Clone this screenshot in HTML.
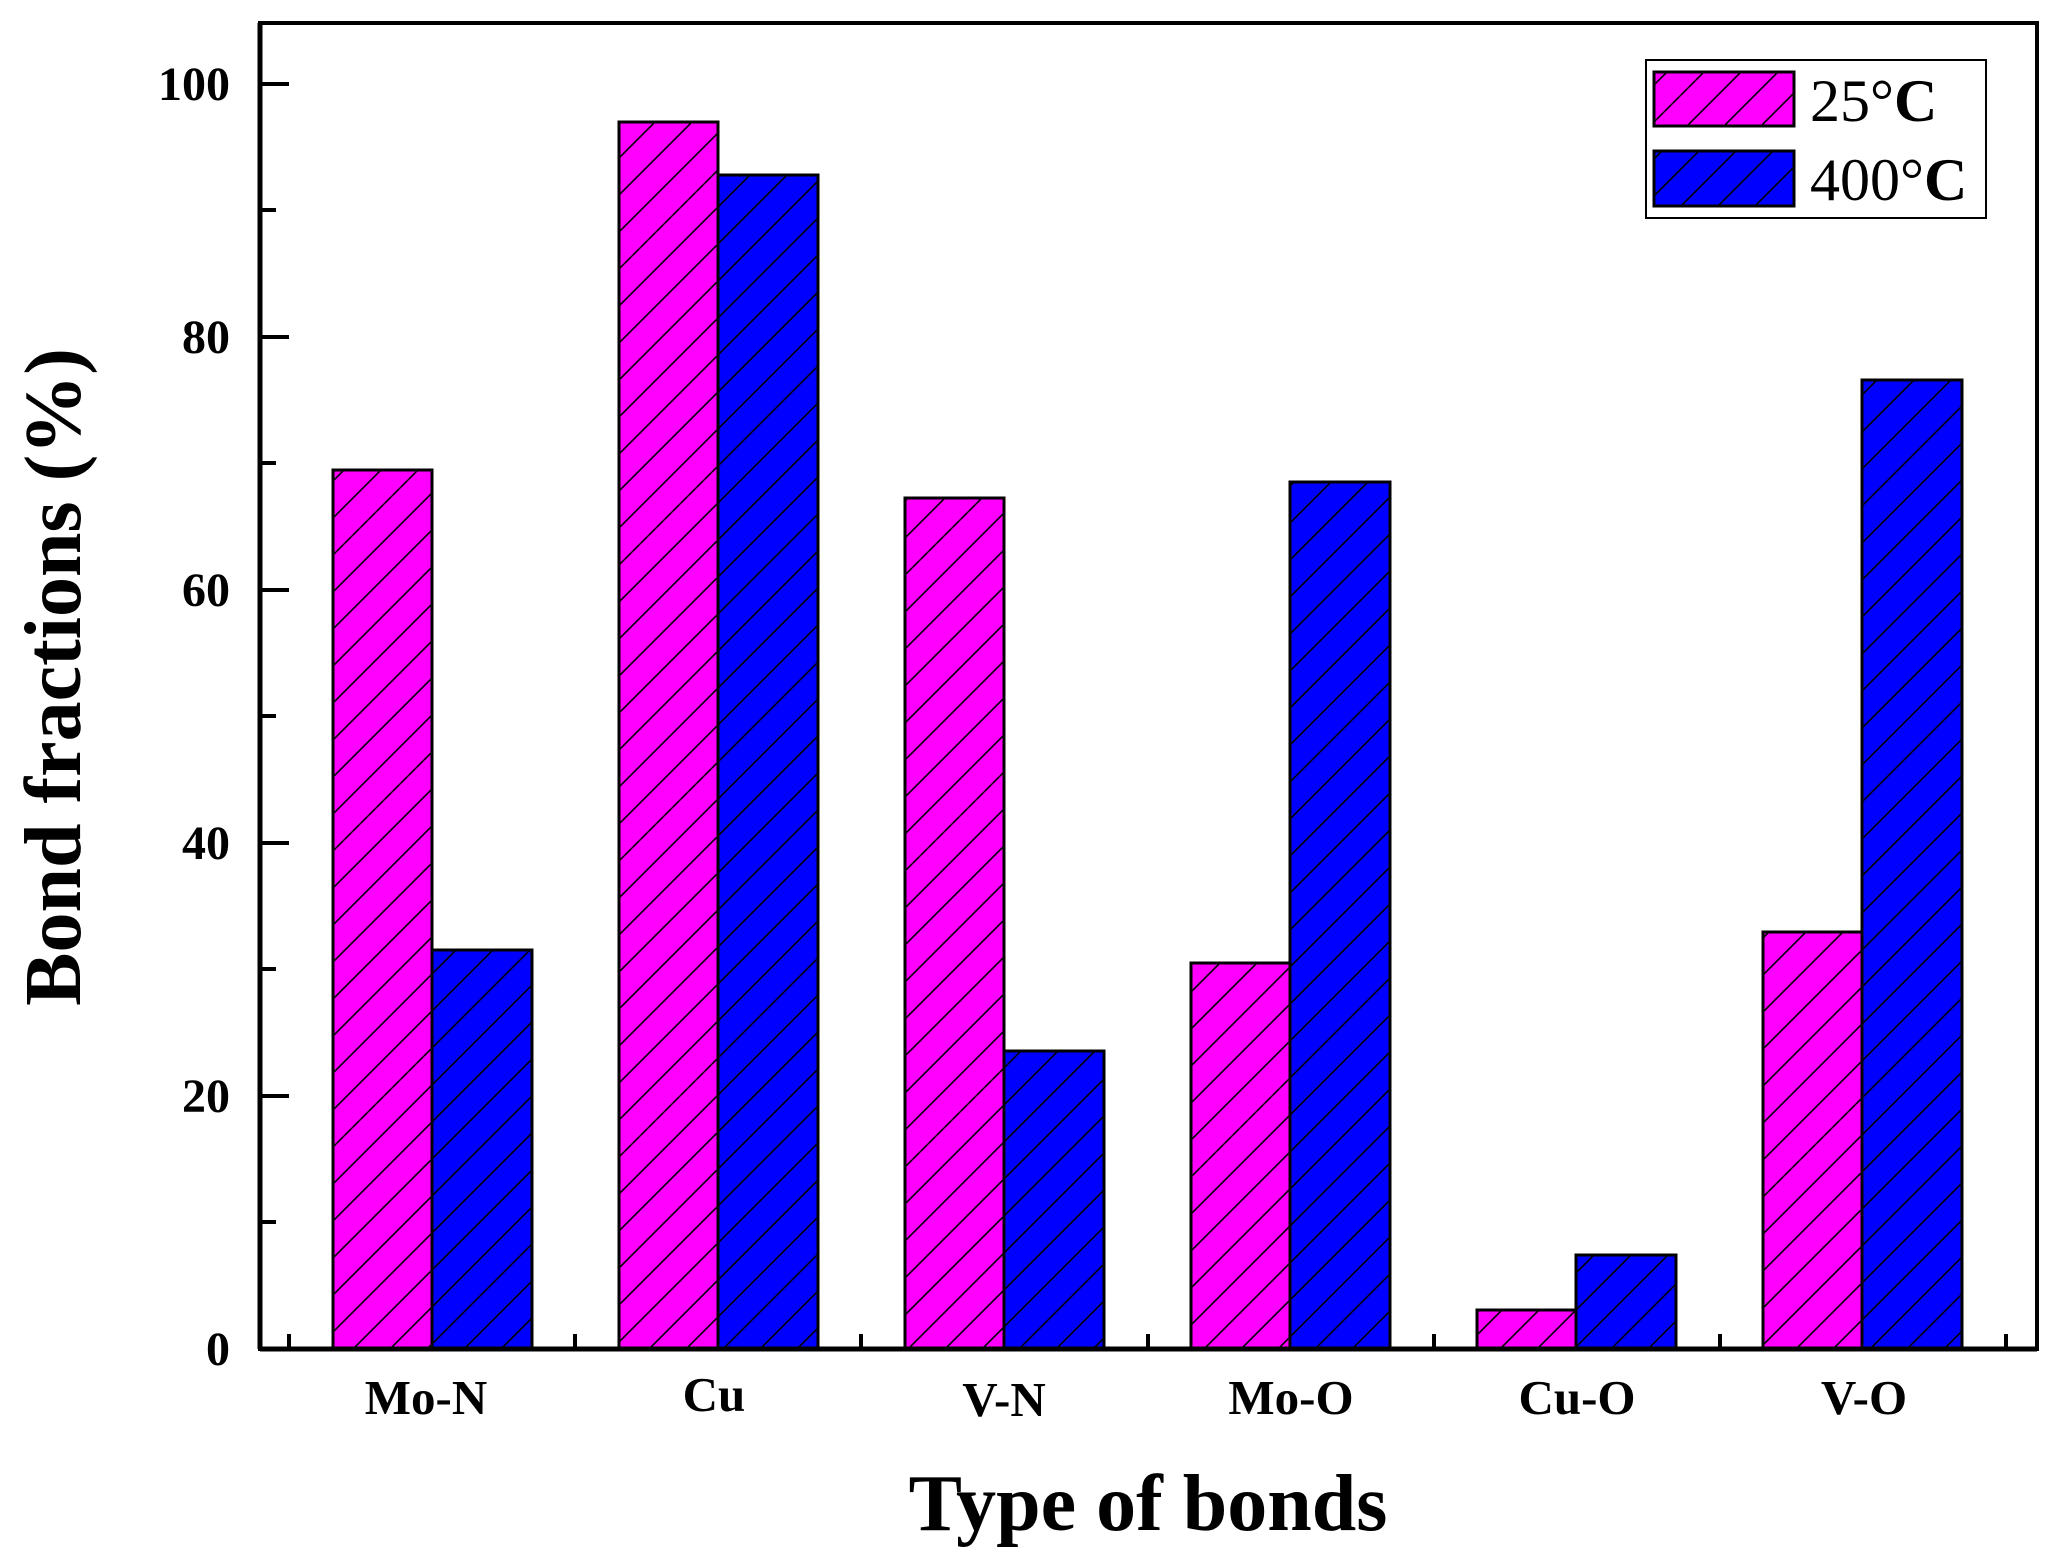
<!DOCTYPE html>
<html><head><style>body{margin:0;background:#fff}svg{display:block}</style></head><body>
<svg width="2051" height="1568" xmlns="http://www.w3.org/2000/svg" font-family="Liberation Serif, serif">
<defs>
<pattern id="h" patternUnits="userSpaceOnUse" width="37" height="37">
<path d="M0,37 L37,0 M-5,5 L5,-5 M32,42 L42,32" stroke="#000" stroke-width="1.6"/>
</pattern>
</defs>
<g stroke="#000" stroke-width="3">
<rect x="333" y="470" width="99" height="879" fill="#f0f"/><rect x="333" y="470" width="99" height="879" fill="url(#h)"/>
<rect x="432" y="950" width="100" height="399" fill="#00f"/><rect x="432" y="950" width="100" height="399" fill="url(#h)"/>
<rect x="619" y="122" width="99" height="1227" fill="#f0f"/><rect x="619" y="122" width="99" height="1227" fill="url(#h)"/>
<rect x="718" y="175" width="100" height="1174" fill="#00f"/><rect x="718" y="175" width="100" height="1174" fill="url(#h)"/>
<rect x="905" y="498" width="99" height="851" fill="#f0f"/><rect x="905" y="498" width="99" height="851" fill="url(#h)"/>
<rect x="1004" y="1051" width="100" height="298" fill="#00f"/><rect x="1004" y="1051" width="100" height="298" fill="url(#h)"/>
<rect x="1191" y="963" width="99" height="386" fill="#f0f"/><rect x="1191" y="963" width="99" height="386" fill="url(#h)"/>
<rect x="1290" y="482" width="100" height="867" fill="#00f"/><rect x="1290" y="482" width="100" height="867" fill="url(#h)"/>
<rect x="1477" y="1310" width="99" height="39" fill="#f0f"/><rect x="1477" y="1310" width="99" height="39" fill="url(#h)"/>
<rect x="1576" y="1255" width="100" height="94" fill="#00f"/><rect x="1576" y="1255" width="100" height="94" fill="url(#h)"/>
<rect x="1763" y="932" width="99" height="417" fill="#f0f"/><rect x="1763" y="932" width="99" height="417" fill="url(#h)"/>
<rect x="1862" y="380" width="100" height="969" fill="#00f"/><rect x="1862" y="380" width="100" height="969" fill="url(#h)"/>
</g>
<rect x="260" y="23" width="1777" height="1326" fill="none" stroke="#000" stroke-width="4"/>
<path d="M260,1349 H2037 M260,23 V1349" stroke="#000" stroke-width="5" fill="none"/>
<g stroke="#000" stroke-width="4">
<path d="M260,84H289M260,337H289M260,590H289M260,843H289M260,1096H289M260,1349H289"/>
<path d="M260,210H276M260,463H276M260,716H276M260,969H276M260,1222H276"/>
<path d="M289,1349V1334M575,1349V1334M861,1349V1334M1148,1349V1334M1434,1349V1334M1720,1349V1334M2006,1349V1334"/>
</g>
<g font-size="48" font-weight="bold" text-anchor="end">
<text x="230" y="100">100</text><text x="230" y="353">80</text><text x="230" y="606">60</text>
<text x="230" y="859">40</text><text x="230" y="1112">20</text><text x="230" y="1365">0</text>
</g>
<g font-size="49" font-weight="bold" text-anchor="middle">
<text x="426" y="1414">Mo-N</text><text x="714" y="1411">Cu</text><text x="1004" y="1416">V-N</text>
<text x="1291" y="1414">Mo-O</text><text x="1577" y="1414">Cu-O</text><text x="1864" y="1414">V-O</text>
</g>
<text x="1148" y="1530" font-size="80" font-weight="bold" text-anchor="middle">Type of bonds</text>
<text transform="translate(80,677) rotate(-90)" font-size="80" font-weight="bold" text-anchor="middle">Bond fractions (%)</text>
<rect x="1646" y="60" width="340" height="158" fill="#fff" stroke="#000" stroke-width="2"/>
<rect x="1654" y="72" width="140" height="54" fill="#f0f" stroke="#000" stroke-width="3"/>
<rect x="1654" y="72" width="140" height="54" fill="url(#h)"/>
<rect x="1654" y="151" width="140" height="55" fill="#00f" stroke="#000" stroke-width="3"/>
<rect x="1654" y="151" width="140" height="55" fill="url(#h)"/>
<text x="1810" y="121" font-size="60">25°<tspan font-weight="bold">C</tspan></text>
<text x="1810" y="200" font-size="60">400°<tspan font-weight="bold">C</tspan></text>
</svg>
</body></html>
